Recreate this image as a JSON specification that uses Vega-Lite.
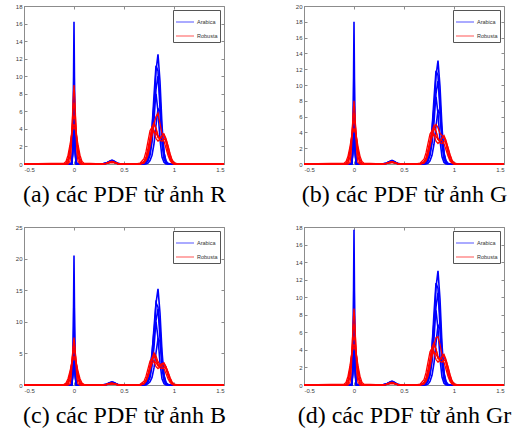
{
"$schema": "https://vega.github.io/schema/vega-lite/v6.json",
"background": "white",
"padding": {"left": 14, "top": 2, "right": 0, "bottom": 0},
"datasets": {
"pa": [
{"x":-0.5,"a1":0,"a2":0,"a3":0,"a4":0,"a5":0,"r1":0,"r2":0,"r3":0,"r4":0,"r5":0},
{"x":-0.1,"a1":0,"a2":0,"a3":0,"a4":0,"a5":0,"r1":0,"r2":0,"r3":0,"r4":0,"r5":0.1},
{"x":-0.08,"a1":0,"a2":0,"a3":0,"a4":0,"a5":0,"r1":0,"r2":0,"r3":0,"r4":0.1,"r5":0.3},
{"x":-0.06,"a1":0,"a2":0,"a3":0,"a4":0,"a5":0,"r1":0,"r2":0.1,"r3":0.3,"r4":0.6,"r5":1.0},
{"x":-0.04,"a1":0,"a2":0,"a3":0,"a4":0,"a5":0,"r1":0.3,"r2":0.9,"r3":1.5,"r4":1.8,"r5":2.2},
{"x":-0.03,"a1":0,"a2":0,"a3":0,"a4":0,"a5":0,"r1":1.2,"r2":2.2,"r3":2.7,"r4":2.7,"r5":2.9},
{"x":-0.02,"a1":0,"a2":0,"a3":0.3,"a4":0.3,"a5":0.4,"r1":3.7,"r2":4.3,"r3":4.0,"r4":3.6,"r5":3.6},
{"x":-0.01,"a1":2.4,"a2":1.8,"a3":2.2,"a4":1.8,"a5":2,"r1":7.2,"r2":6.2,"r3":5.1,"r4":4.3,"r5":4.0},
{"x":0,"a1":16.2,"a2":12,"a3":9,"a4":6,"a5":4.2,"r1":9,"r2":7,"r3":5.5,"r4":4.5,"r5":4.2},
{"x":0.01,"a1":2.4,"a2":1.8,"a3":2.2,"a4":1.8,"a5":2,"r1":7.2,"r2":6.2,"r3":5.1,"r4":4.3,"r5":4.0},
{"x":0.02,"a1":0,"a2":0,"a3":0.3,"a4":0.3,"a5":0.4,"r1":3.7,"r2":4.3,"r3":4.0,"r4":3.6,"r5":3.6},
{"x":0.03,"a1":0,"a2":0,"a3":0,"a4":0,"a5":0,"r1":1.2,"r2":2.2,"r3":2.7,"r4":2.7,"r5":2.9},
{"x":0.04,"a1":0,"a2":0,"a3":0,"a4":0,"a5":0,"r1":0.3,"r2":0.9,"r3":1.5,"r4":1.8,"r5":2.2},
{"x":0.06,"a1":0,"a2":0,"a3":0,"a4":0,"a5":0,"r1":0,"r2":0.1,"r3":0.3,"r4":0.6,"r5":1.0},
{"x":0.08,"a1":0,"a2":0,"a3":0,"a4":0,"a5":0,"r1":0,"r2":0,"r3":0,"r4":0.1,"r5":0.3},
{"x":0.1,"a1":0,"a2":0,"a3":0,"a4":0,"a5":0,"r1":0,"r2":0,"r3":0,"r4":0,"r5":0.1},
{"x":0.28,"a1":0,"a2":0,"a3":0,"a4":0,"a5":0,"r1":0,"r2":0,"r3":0,"r4":0,"r5":0},
{"x":0.32,"a1":0.1,"a2":0.1,"a3":0.07,"a4":0.08,"a5":0.06,"r1":0.08,"r2":0.06,"r3":0.05,"r4":0.08,"r5":0.05},
{"x":0.36,"a1":0.35,"a2":0.32,"a3":0.25,"a4":0.28,"a5":0.2,"r1":0.25,"r2":0.2,"r3":0.16,"r4":0.25,"r5":0.16},
{"x":0.38,"a1":0.45,"a2":0.4,"a3":0.3,"a4":0.35,"a5":0.25,"r1":0.3,"r2":0.25,"r3":0.2,"r4":0.3,"r5":0.2},
{"x":0.4,"a1":0.35,"a2":0.3,"a3":0.24,"a4":0.28,"a5":0.2,"r1":0.22,"r2":0.18,"r3":0.15,"r4":0.22,"r5":0.15},
{"x":0.44,"a1":0.05,"a2":0.05,"a3":0.04,"a4":0.04,"a5":0.03,"r1":0.04,"r2":0.03,"r3":0.03,"r4":0.04,"r5":0.03},
{"x":0.48,"a1":0,"a2":0,"a3":0,"a4":0,"a5":0,"r1":0,"r2":0,"r3":0,"r4":0,"r5":0},
{"x":0.62,"a1":0,"a2":0,"a3":0,"a4":0,"a5":0,"r1":0,"r2":0,"r3":0,"r4":0,"r5":0},
{"x":0.66,"a1":0,"a2":0,"a3":0,"a4":0,"a5":0,"r1":0,"r2":0,"r3":0.1,"r4":0,"r5":0},
{"x":0.7,"a1":0,"a2":0,"a3":0,"a4":0.1,"a5":0,"r1":0.3,"r2":0.1,"r3":0.6,"r4":0.2,"r5":0.2},
{"x":0.72,"a1":0.1,"a2":0.2,"a3":0.1,"a4":0.3,"a5":0,"r1":0.8,"r2":0.4,"r3":1.4,"r4":0.6,"r5":0.6},
{"x":0.74,"a1":0.5,"a2":0.7,"a3":0.4,"a4":0.8,"a5":0.1,"r1":1.8,"r2":1.0,"r3":2.6,"r4":1.5,"r5":1.3},
{"x":0.76,"a1":1.3,"a2":1.8,"a3":1,"a4":2,"a5":0.4,"r1":3.0,"r2":2.0,"r3":3.8,"r4":2.7,"r5":2.4},
{"x":0.78,"a1":3.1,"a2":4.1,"a3":2.5,"a4":4,"a5":1,"r1":4.2,"r2":3.3,"r3":4.2,"r4":3.9,"r5":3.4},
{"x":0.8,"a1":6.3,"a2":7.8,"a3":5,"a4":6.8,"a5":2.3,"r1":4.7,"r2":4.5,"r3":3.7,"r4":4.5,"r5":3.8},
{"x":0.82,"a1":10.6,"a2":11.2,"a3":8.5,"a4":8,"a5":4.4,"r1":4.0,"r2":5.4,"r3":2.9,"r4":4.1,"r5":3.5},
{"x":0.84,"a1":12.5,"a2":10.6,"a3":10,"a4":6,"a5":6.3,"r1":3.0,"r2":5.8,"r3":2.6,"r4":3.3,"r5":3.1},
{"x":0.86,"a1":9.4,"a2":6.3,"a3":7.5,"a4":2.8,"a5":6,"r1":2.9,"r2":4.6,"r3":2.9,"r4":2.7,"r5":3.0},
{"x":0.88,"a1":4.4,"a2":2.3,"a3":3.5,"a4":0.8,"a5":3.6,"r1":3.2,"r2":3.5,"r3":3.3,"r4":2.6,"r5":3.0},
{"x":0.9,"a1":1.3,"a2":0.6,"a3":1,"a4":0.2,"a5":1.3,"r1":3.2,"r2":3.4,"r3":3.4,"r4":2.8,"r5":2.6},
{"x":0.92,"a1":0.3,"a2":0.1,"a3":0.2,"a4":0,"a5":0.3,"r1":2.5,"r2":2.6,"r3":2.9,"r4":2.8,"r5":1.8},
{"x":0.94,"a1":0,"a2":0,"a3":0,"a4":0,"a5":0.1,"r1":1.5,"r2":1.4,"r3":2.0,"r4":2.1,"r5":1.0},
{"x":0.96,"a1":0,"a2":0,"a3":0,"a4":0,"a5":0,"r1":0.7,"r2":0.6,"r3":1.1,"r4":1.2,"r5":0.4},
{"x":0.98,"a1":0,"a2":0,"a3":0,"a4":0,"a5":0,"r1":0.25,"r2":0.2,"r3":0.4,"r4":0.5,"r5":0.1},
{"x":1,"a1":0,"a2":0,"a3":0,"a4":0,"a5":0,"r1":0.05,"r2":0,"r3":0.1,"r4":0.15,"r5":0},
{"x":1.04,"a1":0,"a2":0,"a3":0,"a4":0,"a5":0,"r1":0,"r2":0,"r3":0,"r4":0,"r5":0},
{"x":1.5,"a1":0,"a2":0,"a3":0,"a4":0,"a5":0,"r1":0,"r2":0,"r3":0,"r4":0,"r5":0}
],
"pb": [
{"x":-0.5,"a1":0,"a2":0,"a3":0,"a4":0,"a5":0,"r1":0,"r2":0,"r3":0,"r4":0,"r5":0},
{"x":-0.1,"a1":0,"a2":0,"a3":0,"a4":0,"a5":0,"r1":0,"r2":0,"r3":0,"r4":0,"r5":0.1},
{"x":-0.08,"a1":0,"a2":0,"a3":0,"a4":0,"a5":0,"r1":0,"r2":0,"r3":0,"r4":0.1,"r5":0.3},
{"x":-0.06,"a1":0,"a2":0,"a3":0,"a4":0,"a5":0,"r1":0,"r2":0.1,"r3":0.3,"r4":0.6,"r5":1.0},
{"x":-0.04,"a1":0,"a2":0,"a3":0,"a4":0,"a5":0,"r1":0.2,"r2":0.9,"r3":1.5,"r4":1.8,"r5":2.2},
{"x":-0.03,"a1":0,"a2":0,"a3":0,"a4":0,"a5":0,"r1":1.1,"r2":2.1,"r3":2.7,"r4":2.7,"r5":3.0},
{"x":-0.02,"a1":0,"a2":0,"a3":0.3,"a4":0.3,"a5":0.4,"r1":3.3,"r2":4.0,"r3":4.0,"r4":3.6,"r5":3.7},
{"x":-0.01,"a1":2.7,"a2":2.0,"a3":2.3,"a4":1.9,"a5":2,"r1":6.4,"r2":5.7,"r3":5.1,"r4":4.3,"r5":4.1},
{"x":0,"a1":18,"a2":13,"a3":9.5,"a4":6.5,"a5":4.3,"r1":8,"r2":6.5,"r3":5.5,"r4":4.5,"r5":4.3},
{"x":0.01,"a1":2.7,"a2":2.0,"a3":2.3,"a4":1.9,"a5":2,"r1":6.4,"r2":5.7,"r3":5.1,"r4":4.3,"r5":4.1},
{"x":0.02,"a1":0,"a2":0,"a3":0.3,"a4":0.3,"a5":0.4,"r1":3.3,"r2":4.0,"r3":4.0,"r4":3.6,"r5":3.7},
{"x":0.03,"a1":0,"a2":0,"a3":0,"a4":0,"a5":0,"r1":1.1,"r2":2.1,"r3":2.7,"r4":2.7,"r5":3.0},
{"x":0.04,"a1":0,"a2":0,"a3":0,"a4":0,"a5":0,"r1":0.2,"r2":0.9,"r3":1.5,"r4":1.8,"r5":2.2},
{"x":0.06,"a1":0,"a2":0,"a3":0,"a4":0,"a5":0,"r1":0,"r2":0.1,"r3":0.3,"r4":0.6,"r5":1.0},
{"x":0.08,"a1":0,"a2":0,"a3":0,"a4":0,"a5":0,"r1":0,"r2":0,"r3":0,"r4":0.1,"r5":0.3},
{"x":0.1,"a1":0,"a2":0,"a3":0,"a4":0,"a5":0,"r1":0,"r2":0,"r3":0,"r4":0,"r5":0.1},
{"x":0.28,"a1":0,"a2":0,"a3":0,"a4":0,"a5":0,"r1":0,"r2":0,"r3":0,"r4":0,"r5":0},
{"x":0.32,"a1":0.1,"a2":0.1,"a3":0.07,"a4":0.08,"a5":0.06,"r1":0.08,"r2":0.06,"r3":0.05,"r4":0.08,"r5":0.05},
{"x":0.36,"a1":0.35,"a2":0.32,"a3":0.25,"a4":0.28,"a5":0.2,"r1":0.25,"r2":0.2,"r3":0.16,"r4":0.25,"r5":0.16},
{"x":0.38,"a1":0.45,"a2":0.4,"a3":0.3,"a4":0.35,"a5":0.25,"r1":0.3,"r2":0.25,"r3":0.2,"r4":0.3,"r5":0.2},
{"x":0.4,"a1":0.35,"a2":0.3,"a3":0.24,"a4":0.28,"a5":0.2,"r1":0.22,"r2":0.18,"r3":0.15,"r4":0.22,"r5":0.15},
{"x":0.44,"a1":0.05,"a2":0.05,"a3":0.04,"a4":0.04,"a5":0.03,"r1":0.04,"r2":0.03,"r3":0.03,"r4":0.04,"r5":0.03},
{"x":0.48,"a1":0,"a2":0,"a3":0,"a4":0,"a5":0,"r1":0,"r2":0,"r3":0,"r4":0,"r5":0},
{"x":0.62,"a1":0,"a2":0,"a3":0,"a4":0,"a5":0,"r1":0,"r2":0,"r3":0,"r4":0,"r5":0},
{"x":0.66,"a1":0,"a2":0,"a3":0,"a4":0,"a5":0,"r1":0,"r2":0,"r3":0.1,"r4":0,"r5":0},
{"x":0.7,"a1":0,"a2":0,"a3":0,"a4":0.1,"a5":0,"r1":0.3,"r2":0.1,"r3":0.6,"r4":0.2,"r5":0.2},
{"x":0.72,"a1":0.1,"a2":0.2,"a3":0.1,"a4":0.3,"a5":0,"r1":0.8,"r2":0.4,"r3":1.4,"r4":0.6,"r5":0.6},
{"x":0.74,"a1":0.5,"a2":0.7,"a3":0.4,"a4":0.9,"a5":0.1,"r1":1.8,"r2":1.1,"r3":2.6,"r4":1.5,"r5":1.3},
{"x":0.76,"a1":1.3,"a2":2.0,"a3":1.1,"a4":2.1,"a5":0.4,"r1":3.0,"r2":2.3,"r3":3.8,"r4":2.7,"r5":2.4},
{"x":0.78,"a1":3.3,"a2":4.4,"a3":2.6,"a4":4.3,"a5":1.1,"r1":4.2,"r2":3.6,"r3":4.2,"r4":3.9,"r5":3.4},
{"x":0.8,"a1":6.6,"a2":8.3,"a3":5.3,"a4":7.2,"a5":2.5,"r1":4.9,"r2":4.6,"r3":3.7,"r4":4.5,"r5":3.8},
{"x":0.82,"a1":11.1,"a2":11.8,"a3":8.9,"a4":8.5,"a5":4.8,"r1":4.2,"r2":5.0,"r3":2.9,"r4":4.1,"r5":3.5},
{"x":0.84,"a1":13.1,"a2":11.2,"a3":10.5,"a4":6.4,"a5":6.8,"r1":3.1,"r2":4.6,"r3":2.6,"r4":3.3,"r5":3.1},
{"x":0.86,"a1":9.8,"a2":6.7,"a3":7.9,"a4":3.0,"a5":6.4,"r1":2.9,"r2":3.9,"r3":2.9,"r4":2.7,"r5":3.0},
{"x":0.88,"a1":4.6,"a2":2.4,"a3":3.7,"a4":0.9,"a5":3.9,"r1":3.3,"r2":3.6,"r3":3.3,"r4":2.6,"r5":3.0},
{"x":0.9,"a1":1.3,"a2":0.6,"a3":1.1,"a4":0.2,"a5":1.4,"r1":3.4,"r2":3.4,"r3":3.6,"r4":2.8,"r5":2.6},
{"x":0.92,"a1":0.3,"a2":0.1,"a3":0.2,"a4":0,"a5":0.4,"r1":2.6,"r2":2.6,"r3":3.0,"r4":2.8,"r5":1.8},
{"x":0.94,"a1":0,"a2":0,"a3":0,"a4":0,"a5":0.1,"r1":1.5,"r2":1.4,"r3":2.0,"r4":2.1,"r5":1.0},
{"x":0.96,"a1":0,"a2":0,"a3":0,"a4":0,"a5":0,"r1":0.7,"r2":0.6,"r3":1.1,"r4":1.2,"r5":0.4},
{"x":0.98,"a1":0,"a2":0,"a3":0,"a4":0,"a5":0,"r1":0.25,"r2":0.2,"r3":0.4,"r4":0.5,"r5":0.1},
{"x":1,"a1":0,"a2":0,"a3":0,"a4":0,"a5":0,"r1":0.05,"r2":0,"r3":0.1,"r4":0.15,"r5":0},
{"x":1.04,"a1":0,"a2":0,"a3":0,"a4":0,"a5":0,"r1":0,"r2":0,"r3":0,"r4":0,"r5":0},
{"x":1.5,"a1":0,"a2":0,"a3":0,"a4":0,"a5":0,"r1":0,"r2":0,"r3":0,"r4":0,"r5":0}
],
"pc": [
{"x":-0.5,"a1":0,"a2":0,"a3":0,"a4":0,"a5":0,"r1":0,"r2":0,"r3":0,"r4":0,"r5":0},
{"x":-0.1,"a1":0,"a2":0,"a3":0,"a4":0,"a5":0,"r1":0,"r2":0,"r3":0,"r4":0,"r5":0.1},
{"x":-0.08,"a1":0,"a2":0,"a3":0,"a4":0,"a5":0,"r1":0,"r2":0,"r3":0,"r4":0.1,"r5":0.3},
{"x":-0.06,"a1":0,"a2":0,"a3":0,"a4":0,"a5":0,"r1":0,"r2":0.1,"r3":0.3,"r4":0.6,"r5":1.0},
{"x":-0.04,"a1":0,"a2":0,"a3":0,"a4":0,"a5":0,"r1":0.2,"r2":0.9,"r3":1.5,"r4":1.8,"r5":2.2},
{"x":-0.03,"a1":0,"a2":0,"a3":0,"a4":0,"a5":0,"r1":1.0,"r2":2.1,"r3":2.7,"r4":2.7,"r5":2.9},
{"x":-0.02,"a1":0,"a2":0,"a3":0.4,"a4":0.3,"a5":0.4,"r1":3.1,"r2":4.0,"r3":4.0,"r4":3.6,"r5":3.6},
{"x":-0.01,"a1":3.1,"a2":2.3,"a3":2.6,"a4":2.1,"a5":2.1,"r1":6.0,"r2":5.7,"r3":5.1,"r4":4.3,"r5":4.0},
{"x":0,"a1":20.5,"a2":15,"a3":11,"a4":7,"a5":4.5,"r1":7.5,"r2":6.5,"r3":5.5,"r4":4.5,"r5":4.2},
{"x":0.01,"a1":3.1,"a2":2.3,"a3":2.6,"a4":2.1,"a5":2.1,"r1":6.0,"r2":5.7,"r3":5.1,"r4":4.3,"r5":4.0},
{"x":0.02,"a1":0,"a2":0,"a3":0.4,"a4":0.3,"a5":0.4,"r1":3.1,"r2":4.0,"r3":4.0,"r4":3.6,"r5":3.6},
{"x":0.03,"a1":0,"a2":0,"a3":0,"a4":0,"a5":0,"r1":1.0,"r2":2.1,"r3":2.7,"r4":2.7,"r5":2.9},
{"x":0.04,"a1":0,"a2":0,"a3":0,"a4":0,"a5":0,"r1":0.2,"r2":0.9,"r3":1.5,"r4":1.8,"r5":2.2},
{"x":0.06,"a1":0,"a2":0,"a3":0,"a4":0,"a5":0,"r1":0,"r2":0.1,"r3":0.3,"r4":0.6,"r5":1.0},
{"x":0.08,"a1":0,"a2":0,"a3":0,"a4":0,"a5":0,"r1":0,"r2":0,"r3":0,"r4":0.1,"r5":0.3},
{"x":0.1,"a1":0,"a2":0,"a3":0,"a4":0,"a5":0,"r1":0,"r2":0,"r3":0,"r4":0,"r5":0.1},
{"x":0.28,"a1":0,"a2":0,"a3":0,"a4":0,"a5":0,"r1":0,"r2":0,"r3":0,"r4":0,"r5":0},
{"x":0.32,"a1":0.1,"a2":0.1,"a3":0.08,"a4":0.08,"a5":0.06,"r1":0.08,"r2":0.06,"r3":0.05,"r4":0.08,"r5":0.05},
{"x":0.36,"a1":0.4,"a2":0.35,"a3":0.28,"a4":0.3,"a5":0.22,"r1":0.25,"r2":0.2,"r3":0.16,"r4":0.25,"r5":0.16},
{"x":0.38,"a1":0.5,"a2":0.45,"a3":0.35,"a4":0.38,"a5":0.28,"r1":0.3,"r2":0.25,"r3":0.2,"r4":0.3,"r5":0.2},
{"x":0.4,"a1":0.4,"a2":0.34,"a3":0.27,"a4":0.3,"a5":0.22,"r1":0.22,"r2":0.18,"r3":0.15,"r4":0.22,"r5":0.15},
{"x":0.44,"a1":0.06,"a2":0.05,"a3":0.04,"a4":0.04,"a5":0.03,"r1":0.04,"r2":0.03,"r3":0.03,"r4":0.04,"r5":0.03},
{"x":0.48,"a1":0,"a2":0,"a3":0,"a4":0,"a5":0,"r1":0,"r2":0,"r3":0,"r4":0,"r5":0},
{"x":0.62,"a1":0,"a2":0,"a3":0,"a4":0,"a5":0,"r1":0,"r2":0,"r3":0,"r4":0,"r5":0},
{"x":0.66,"a1":0,"a2":0,"a3":0,"a4":0,"a5":0,"r1":0,"r2":0,"r3":0.1,"r4":0,"r5":0},
{"x":0.7,"a1":0,"a2":0,"a3":0,"a4":0.1,"a5":0,"r1":0.3,"r2":0.2,"r3":0.6,"r4":0.2,"r5":0.2},
{"x":0.72,"a1":0.2,"a2":0.3,"a3":0.1,"a4":0.4,"a5":0,"r1":0.8,"r2":0.6,"r3":1.4,"r4":0.6,"r5":0.6},
{"x":0.74,"a1":0.6,"a2":0.8,"a3":0.5,"a4":1.0,"a5":0.2,"r1":1.8,"r2":1.5,"r3":2.6,"r4":1.5,"r5":1.3},
{"x":0.76,"a1":1.5,"a2":2.1,"a3":1.2,"a4":2.5,"a5":0.5,"r1":3.0,"r2":2.8,"r3":3.8,"r4":2.7,"r5":2.4},
{"x":0.78,"a1":3.8,"a2":4.8,"a3":3.0,"a4":5,"a5":1.2,"r1":4.2,"r2":4.2,"r3":4.2,"r4":3.9,"r5":3.4},
{"x":0.8,"a1":7.6,"a2":9.1,"a3":6,"a4":8.5,"a5":2.7,"r1":4.8,"r2":5.1,"r3":3.7,"r4":4.5,"r5":3.8},
{"x":0.82,"a1":12.9,"a2":13.0,"a3":10.2,"a4":10,"a5":5.1,"r1":4.0,"r2":4.6,"r3":2.9,"r4":4.1,"r5":3.5},
{"x":0.84,"a1":15.2,"a2":12.3,"a3":12,"a4":7.5,"a5":7.3,"r1":3.0,"r2":3.7,"r3":2.6,"r4":3.3,"r5":3.1},
{"x":0.86,"a1":11.4,"a2":7.4,"a3":9,"a4":3.5,"a5":6.9,"r1":2.9,"r2":3.2,"r3":2.9,"r4":2.7,"r5":3.0},
{"x":0.88,"a1":5.3,"a2":2.7,"a3":4.2,"a4":1,"a5":4.1,"r1":3.2,"r2":3.4,"r3":3.3,"r4":2.6,"r5":3.0},
{"x":0.9,"a1":1.5,"a2":0.7,"a3":1.2,"a4":0.2,"a5":1.5,"r1":3.2,"r2":3.5,"r3":3.4,"r4":2.8,"r5":2.6},
{"x":0.92,"a1":0.3,"a2":0.1,"a3":0.2,"a4":0,"a5":0.4,"r1":2.5,"r2":2.9,"r3":2.9,"r4":2.8,"r5":1.8},
{"x":0.94,"a1":0,"a2":0,"a3":0,"a4":0,"a5":0.1,"r1":1.5,"r2":1.8,"r3":2.0,"r4":2.1,"r5":1.0},
{"x":0.96,"a1":0,"a2":0,"a3":0,"a4":0,"a5":0,"r1":0.7,"r2":0.8,"r3":1.1,"r4":1.2,"r5":0.4},
{"x":0.98,"a1":0,"a2":0,"a3":0,"a4":0,"a5":0,"r1":0.25,"r2":0.3,"r3":0.4,"r4":0.5,"r5":0.1},
{"x":1,"a1":0,"a2":0,"a3":0,"a4":0,"a5":0,"r1":0.05,"r2":0,"r3":0.1,"r4":0.15,"r5":0},
{"x":1.04,"a1":0,"a2":0,"a3":0,"a4":0,"a5":0,"r1":0,"r2":0,"r3":0,"r4":0,"r5":0},
{"x":1.5,"a1":0,"a2":0,"a3":0,"a4":0,"a5":0,"r1":0,"r2":0,"r3":0,"r4":0,"r5":0}
],
"pd": [
{"x":-0.5,"a1":0,"a2":0,"a3":0,"a4":0,"a5":0,"r1":0,"r2":0,"r3":0,"r4":0,"r5":0},
{"x":-0.1,"a1":0,"a2":0,"a3":0,"a4":0,"a5":0,"r1":0,"r2":0,"r3":0,"r4":0,"r5":0.1},
{"x":-0.08,"a1":0,"a2":0,"a3":0,"a4":0,"a5":0,"r1":0,"r2":0,"r3":0,"r4":0.1,"r5":0.3},
{"x":-0.06,"a1":0,"a2":0,"a3":0,"a4":0,"a5":0,"r1":0,"r2":0.1,"r3":0.3,"r4":0.6,"r5":1.0},
{"x":-0.04,"a1":0,"a2":0,"a3":0,"a4":0,"a5":0,"r1":0.3,"r2":0.9,"r3":1.5,"r4":1.9,"r5":2.2},
{"x":-0.03,"a1":0,"a2":0,"a3":0,"a4":0,"a5":0,"r1":1.2,"r2":2.2,"r3":2.7,"r4":2.8,"r5":3.0},
{"x":-0.02,"a1":0,"a2":0,"a3":0.3,"a4":0.3,"a5":0.4,"r1":3.6,"r2":4.3,"r3":4.0,"r4":3.7,"r5":3.7},
{"x":-0.01,"a1":2.7,"a2":2.0,"a3":2.3,"a4":1.9,"a5":2.1,"r1":7.0,"r2":6.2,"r3":5.1,"r4":4.4,"r5":4.1},
{"x":0,"a1":17.7,"a2":13,"a3":9.5,"a4":6.5,"a5":4.5,"r1":8.7,"r2":7,"r3":5.5,"r4":4.6,"r5":4.3},
{"x":0.01,"a1":2.7,"a2":2.0,"a3":2.3,"a4":1.9,"a5":2.1,"r1":7.0,"r2":6.2,"r3":5.1,"r4":4.4,"r5":4.1},
{"x":0.02,"a1":0,"a2":0,"a3":0.3,"a4":0.3,"a5":0.4,"r1":3.6,"r2":4.3,"r3":4.0,"r4":3.7,"r5":3.7},
{"x":0.03,"a1":0,"a2":0,"a3":0,"a4":0,"a5":0,"r1":1.2,"r2":2.2,"r3":2.7,"r4":2.8,"r5":3.0},
{"x":0.04,"a1":0,"a2":0,"a3":0,"a4":0,"a5":0,"r1":0.3,"r2":0.9,"r3":1.5,"r4":1.9,"r5":2.2},
{"x":0.06,"a1":0,"a2":0,"a3":0,"a4":0,"a5":0,"r1":0,"r2":0.1,"r3":0.3,"r4":0.6,"r5":1.0},
{"x":0.08,"a1":0,"a2":0,"a3":0,"a4":0,"a5":0,"r1":0,"r2":0,"r3":0,"r4":0.1,"r5":0.3},
{"x":0.1,"a1":0,"a2":0,"a3":0,"a4":0,"a5":0,"r1":0,"r2":0,"r3":0,"r4":0,"r5":0.1},
{"x":0.28,"a1":0,"a2":0,"a3":0,"a4":0,"a5":0,"r1":0,"r2":0,"r3":0,"r4":0,"r5":0},
{"x":0.32,"a1":0.1,"a2":0.1,"a3":0.07,"a4":0.08,"a5":0.06,"r1":0.08,"r2":0.06,"r3":0.05,"r4":0.08,"r5":0.05},
{"x":0.36,"a1":0.35,"a2":0.32,"a3":0.25,"a4":0.28,"a5":0.2,"r1":0.25,"r2":0.2,"r3":0.16,"r4":0.25,"r5":0.16},
{"x":0.38,"a1":0.45,"a2":0.4,"a3":0.3,"a4":0.35,"a5":0.25,"r1":0.3,"r2":0.25,"r3":0.2,"r4":0.3,"r5":0.2},
{"x":0.4,"a1":0.35,"a2":0.3,"a3":0.24,"a4":0.28,"a5":0.2,"r1":0.22,"r2":0.18,"r3":0.15,"r4":0.22,"r5":0.15},
{"x":0.44,"a1":0.05,"a2":0.05,"a3":0.04,"a4":0.04,"a5":0.03,"r1":0.04,"r2":0.03,"r3":0.03,"r4":0.04,"r5":0.03},
{"x":0.48,"a1":0,"a2":0,"a3":0,"a4":0,"a5":0,"r1":0,"r2":0,"r3":0,"r4":0,"r5":0},
{"x":0.62,"a1":0,"a2":0,"a3":0,"a4":0,"a5":0,"r1":0,"r2":0,"r3":0,"r4":0,"r5":0},
{"x":0.66,"a1":0,"a2":0,"a3":0,"a4":0,"a5":0,"r1":0,"r2":0,"r3":0.1,"r4":0,"r5":0},
{"x":0.7,"a1":0,"a2":0,"a3":0,"a4":0.1,"a5":0,"r1":0.3,"r2":0.1,"r3":0.6,"r4":0.2,"r5":0.2},
{"x":0.72,"a1":0.1,"a2":0.2,"a3":0.1,"a4":0.3,"a5":0,"r1":0.8,"r2":0.4,"r3":1.4,"r4":0.6,"r5":0.6},
{"x":0.74,"a1":0.5,"a2":0.7,"a3":0.4,"a4":0.9,"a5":0.1,"r1":1.8,"r2":1.0,"r3":2.6,"r4":1.5,"r5":1.3},
{"x":0.76,"a1":1.3,"a2":1.9,"a3":1.1,"a4":2.1,"a5":0.4,"r1":3.0,"r2":2.0,"r3":3.8,"r4":2.7,"r5":2.4},
{"x":0.78,"a1":3.3,"a2":4.3,"a3":2.6,"a4":4.3,"a5":1.1,"r1":4.3,"r2":3.3,"r3":4.2,"r4":3.9,"r5":3.4},
{"x":0.8,"a1":6.5,"a2":8.2,"a3":5.3,"a4":7.2,"a5":2.5,"r1":4.8,"r2":4.5,"r3":3.7,"r4":4.5,"r5":3.8},
{"x":0.82,"a1":11.1,"a2":11.6,"a3":8.9,"a4":8.5,"a5":4.8,"r1":4.1,"r2":5.4,"r3":2.9,"r4":4.1,"r5":3.5},
{"x":0.84,"a1":13,"a2":11,"a3":10.5,"a4":6.4,"a5":6.8,"r1":3.0,"r2":5.5,"r3":2.6,"r4":3.3,"r5":3.1},
{"x":0.86,"a1":9.8,"a2":6.6,"a3":7.9,"a4":3.0,"a5":6.4,"r1":2.9,"r2":4.6,"r3":2.9,"r4":2.7,"r5":3.0},
{"x":0.88,"a1":4.6,"a2":2.4,"a3":3.7,"a4":0.9,"a5":3.9,"r1":3.2,"r2":3.5,"r3":3.3,"r4":2.6,"r5":3.0},
{"x":0.9,"a1":1.3,"a2":0.6,"a3":1.1,"a4":0.2,"a5":1.4,"r1":3.3,"r2":3.4,"r3":3.5,"r4":2.8,"r5":2.6},
{"x":0.92,"a1":0.3,"a2":0.1,"a3":0.2,"a4":0,"a5":0.4,"r1":2.5,"r2":2.6,"r3":2.9,"r4":2.8,"r5":1.8},
{"x":0.94,"a1":0,"a2":0,"a3":0,"a4":0,"a5":0.1,"r1":1.5,"r2":1.4,"r3":2.0,"r4":2.1,"r5":1.0},
{"x":0.96,"a1":0,"a2":0,"a3":0,"a4":0,"a5":0,"r1":0.7,"r2":0.6,"r3":1.1,"r4":1.2,"r5":0.4},
{"x":0.98,"a1":0,"a2":0,"a3":0,"a4":0,"a5":0,"r1":0.25,"r2":0.2,"r3":0.4,"r4":0.5,"r5":0.1},
{"x":1,"a1":0,"a2":0,"a3":0,"a4":0,"a5":0,"r1":0.05,"r2":0,"r3":0.1,"r4":0.15,"r5":0},
{"x":1.04,"a1":0,"a2":0,"a3":0,"a4":0,"a5":0,"r1":0,"r2":0,"r3":0,"r4":0,"r5":0},
{"x":1.5,"a1":0,"a2":0,"a3":0,"a4":0,"a5":0,"r1":0,"r2":0,"r3":0,"r4":0,"r5":0}
]
},
"config": {
"font": "Liberation Sans",
"view": {"stroke": "#8c8c8c", "strokeWidth": 1},
"axis": {"labelFontSize": 6, "labelColor": "#404040", "domainColor": "#8c8c8c", "tickColor": "#8c8c8c", "tickSize": -3, "labelPadding": 5, "grid": false, "titleFont": "Liberation Serif", "titleFontSize": 24, "titleFontWeight": "normal", "titleColor": "#000000", "titlePadding": 10},
"legend": {"orient": "top-right", "offset": 4, "strokeColor": "#555555", "fillColor": "#ffffff", "padding": 2, "labelFontSize": 5.5, "labelColor": "#333333", "symbolType": "stroke", "symbolSize": 324, "symbolStrokeWidth": 1.2, "symbolOpacity": 0.55, "rowPadding": 0, "labelOffset": 2}
},
"columns": 2,
"spacing": {"row": 63, "column": 80},
"bounds": "flush",
"resolve": {"scale": {"x": "independent", "y": "independent", "color": "independent"}},
"concat": [
{"width": 200, "height": 158, "data": {"name": "pa"},
 "layer": [
  {"transform": [{"fold": ["a1","a2","a3","a4","a5"], "as": ["curve","y"]}],
   "mark": {"type": "line", "strokeWidth": 1.6},
   "encoding": {
    "x": {"field": "x", "type": "quantitative", "scale": {"domain": [-0.5, 1.5], "nice": false, "zero": false}, "axis": {"orient": "bottom", "values": [-0.5, 0, 0.5, 1, 1.5], "labelExpr": "'' + datum.value", "title": "(a) các PDF từ ảnh R"}},
    "y": {"field": "y", "type": "quantitative", "scale": {"domain": [0, 18], "nice": false}, "axis": {"orient": "left", "values": [0,2,4,6,8,10,12,14,16,18], "title": null}},
    "color": {"datum": "Arabica", "type": "nominal", "scale": {"domain": ["Arabica", "Robusta"], "range": ["#0000ff", "#ff0000"]}, "legend": {"title": null}},
    "detail": {"field": "curve"}}},
  {"transform": [{"fold": ["r1","r2","r3","r4","r5"], "as": ["curve","y"]}],
   "mark": {"type": "line", "strokeWidth": 1.3},
   "encoding": {
    "x": {"field": "x", "type": "quantitative", "axis": {"orient": "top", "values": [-0.5, 0, 0.5, 1, 1.5], "labels": false, "domain": false, "title": null}},
    "y": {"field": "y", "type": "quantitative", "axis": {"orient": "right", "values": [0,2,4,6,8,10,12,14,16,18], "labels": false, "domain": false, "title": null}},
    "color": {"datum": "Robusta", "type": "nominal"},
    "detail": {"field": "curve"}}}
 ],
 "resolve": {"axis": {"x": "independent", "y": "independent"}}},
{"width": 200, "height": 158, "data": {"name": "pb"},
 "layer": [
  {"transform": [{"fold": ["a1","a2","a3","a4","a5"], "as": ["curve","y"]}],
   "mark": {"type": "line", "strokeWidth": 1.6},
   "encoding": {
    "x": {"field": "x", "type": "quantitative", "scale": {"domain": [-0.5, 1.5], "nice": false, "zero": false}, "axis": {"orient": "bottom", "values": [-0.5, 0, 0.5, 1, 1.5], "labelExpr": "'' + datum.value", "title": "(b) các PDF từ ảnh G"}},
    "y": {"field": "y", "type": "quantitative", "scale": {"domain": [0, 20], "nice": false}, "axis": {"orient": "left", "values": [0,2,4,6,8,10,12,14,16,18,20], "title": null}},
    "color": {"datum": "Arabica", "type": "nominal", "scale": {"domain": ["Arabica", "Robusta"], "range": ["#0000ff", "#ff0000"]}, "legend": {"title": null}},
    "detail": {"field": "curve"}}},
  {"transform": [{"fold": ["r1","r2","r3","r4","r5"], "as": ["curve","y"]}],
   "mark": {"type": "line", "strokeWidth": 1.3},
   "encoding": {
    "x": {"field": "x", "type": "quantitative", "axis": {"orient": "top", "values": [-0.5, 0, 0.5, 1, 1.5], "labels": false, "domain": false, "title": null}},
    "y": {"field": "y", "type": "quantitative", "axis": {"orient": "right", "values": [0,2,4,6,8,10,12,14,16,18,20], "labels": false, "domain": false, "title": null}},
    "color": {"datum": "Robusta", "type": "nominal"},
    "detail": {"field": "curve"}}}
 ],
 "resolve": {"axis": {"x": "independent", "y": "independent"}}},
{"width": 200, "height": 158, "data": {"name": "pc"},
 "layer": [
  {"transform": [{"fold": ["a1","a2","a3","a4","a5"], "as": ["curve","y"]}],
   "mark": {"type": "line", "strokeWidth": 1.6},
   "encoding": {
    "x": {"field": "x", "type": "quantitative", "scale": {"domain": [-0.5, 1.5], "nice": false, "zero": false}, "axis": {"orient": "bottom", "values": [-0.5, 0, 0.5, 1, 1.5], "labelExpr": "'' + datum.value", "title": "(c) các PDF từ ảnh B"}},
    "y": {"field": "y", "type": "quantitative", "scale": {"domain": [0, 25], "nice": false}, "axis": {"orient": "left", "values": [0,5,10,15,20,25], "title": null}},
    "color": {"datum": "Arabica", "type": "nominal", "scale": {"domain": ["Arabica", "Robusta"], "range": ["#0000ff", "#ff0000"]}, "legend": {"title": null}},
    "detail": {"field": "curve"}}},
  {"transform": [{"fold": ["r1","r2","r3","r4","r5"], "as": ["curve","y"]}],
   "mark": {"type": "line", "strokeWidth": 1.3},
   "encoding": {
    "x": {"field": "x", "type": "quantitative", "axis": {"orient": "top", "values": [-0.5, 0, 0.5, 1, 1.5], "labels": false, "domain": false, "title": null}},
    "y": {"field": "y", "type": "quantitative", "axis": {"orient": "right", "values": [0,5,10,15,20,25], "labels": false, "domain": false, "title": null}},
    "color": {"datum": "Robusta", "type": "nominal"},
    "detail": {"field": "curve"}}}
 ],
 "resolve": {"axis": {"x": "independent", "y": "independent"}}},
{"width": 200, "height": 158, "data": {"name": "pd"},
 "layer": [
  {"transform": [{"fold": ["a1","a2","a3","a4","a5"], "as": ["curve","y"]}],
   "mark": {"type": "line", "strokeWidth": 1.6},
   "encoding": {
    "x": {"field": "x", "type": "quantitative", "scale": {"domain": [-0.5, 1.5], "nice": false, "zero": false}, "axis": {"orient": "bottom", "values": [-0.5, 0, 0.5, 1, 1.5], "labelExpr": "'' + datum.value", "title": "(d) các PDF từ ảnh Gr"}},
    "y": {"field": "y", "type": "quantitative", "scale": {"domain": [0, 18], "nice": false}, "axis": {"orient": "left", "values": [0,2,4,6,8,10,12,14,16,18], "title": null}},
    "color": {"datum": "Arabica", "type": "nominal", "scale": {"domain": ["Arabica", "Robusta"], "range": ["#0000ff", "#ff0000"]}, "legend": {"title": null}},
    "detail": {"field": "curve"}}},
  {"transform": [{"fold": ["r1","r2","r3","r4","r5"], "as": ["curve","y"]}],
   "mark": {"type": "line", "strokeWidth": 1.3},
   "encoding": {
    "x": {"field": "x", "type": "quantitative", "axis": {"orient": "top", "values": [-0.5, 0, 0.5, 1, 1.5], "labels": false, "domain": false, "title": null}},
    "y": {"field": "y", "type": "quantitative", "axis": {"orient": "right", "values": [0,2,4,6,8,10,12,14,16,18], "labels": false, "domain": false, "title": null}},
    "color": {"datum": "Robusta", "type": "nominal"},
    "detail": {"field": "curve"}}}
 ],
 "resolve": {"axis": {"x": "independent", "y": "independent"}}}
]
}
